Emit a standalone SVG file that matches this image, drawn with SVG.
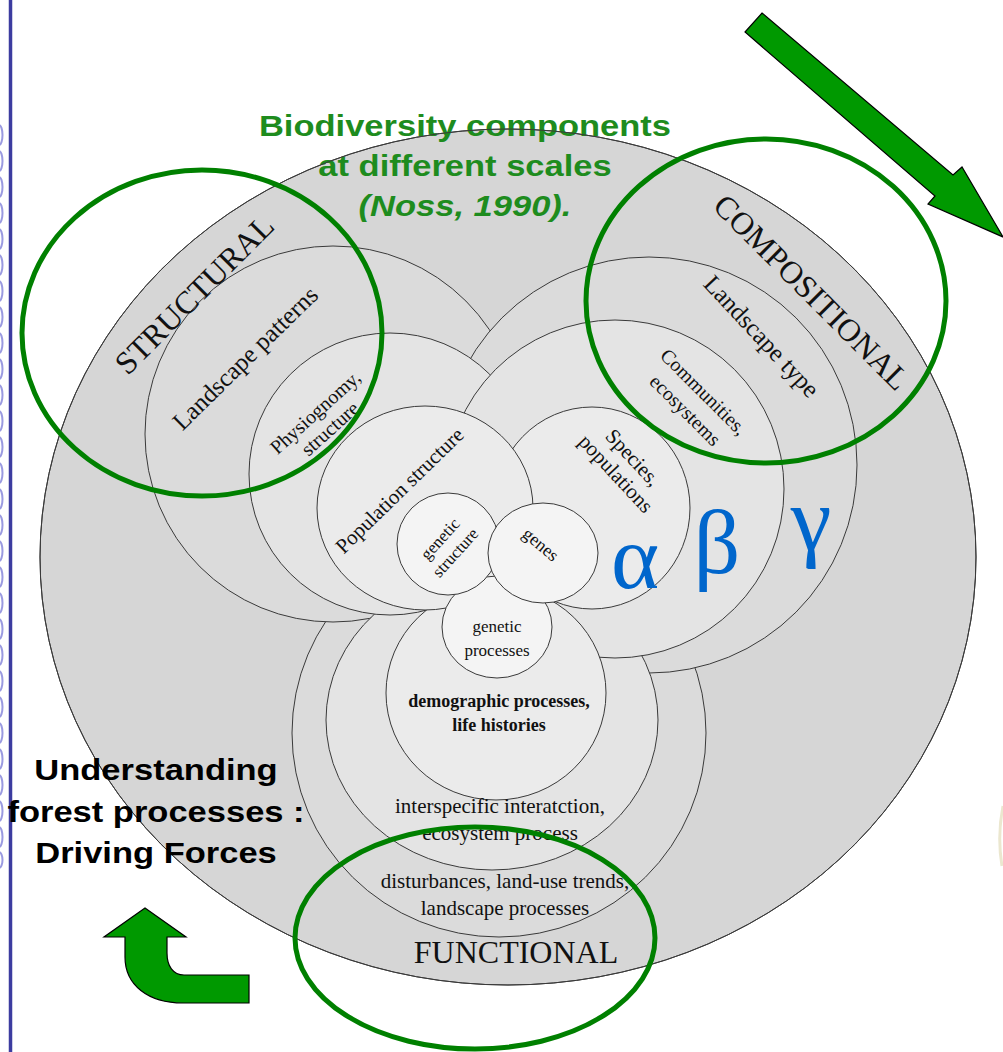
<svg xmlns="http://www.w3.org/2000/svg" width="1003" height="1052" viewBox="0 0 1003 1052">
<style>
.ring{stroke:#3a3a3a;stroke-width:1}
.l0{fill:#d6d6d6}
.l1{fill:#dbdbdb}
.l2{fill:#e4e4e4}
.l3{fill:#ebebeb}
.l4{fill:#f4f4f4}
.lab{font-family:"Liberation Serif","Times New Roman",serif;fill:#111}
.hl{fill:none;stroke:#008000;stroke-width:5}
.slide{font-family:"Liberation Sans",Arial,sans-serif;font-weight:bold;font-size:34.5px;text-anchor:middle}
.greek{font-family:"Liberation Serif","Times New Roman",serif;fill:#0066cc;font-size:92px;text-anchor:middle}
.arrow{fill:#009900;stroke:#000;stroke-width:1.2;stroke-linejoin:miter}
.bind{fill:none;stroke:#9a9ae0;stroke-width:2}
</style>
<rect width="1003" height="1052" fill="#fff"/>
<g id="binding">
<g class="bind">
<ellipse cx="-1" cy="135" rx="3.5" ry="10"/><ellipse cx="-1" cy="161" rx="3.5" ry="10"/><ellipse cx="-1" cy="187" rx="3.5" ry="10"/><ellipse cx="-1" cy="213" rx="3.5" ry="10"/><ellipse cx="-1" cy="239" rx="3.5" ry="10"/><ellipse cx="-1" cy="265" rx="3.5" ry="10"/><ellipse cx="-1" cy="291" rx="3.5" ry="10"/><ellipse cx="-1" cy="317" rx="3.5" ry="10"/><ellipse cx="-1" cy="343" rx="3.5" ry="10"/><ellipse cx="-1" cy="369" rx="3.5" ry="10"/><ellipse cx="-1" cy="395" rx="3.5" ry="10"/><ellipse cx="-1" cy="421" rx="3.5" ry="10"/><ellipse cx="-1" cy="447" rx="3.5" ry="10"/><ellipse cx="-1" cy="473" rx="3.5" ry="10"/><ellipse cx="-1" cy="499" rx="3.5" ry="10"/><ellipse cx="-1" cy="525" rx="3.5" ry="10"/><ellipse cx="-1" cy="551" rx="3.5" ry="10"/><ellipse cx="-1" cy="577" rx="3.5" ry="10"/><ellipse cx="-1" cy="603" rx="3.5" ry="10"/><ellipse cx="-1" cy="629" rx="3.5" ry="10"/><ellipse cx="-1" cy="655" rx="3.5" ry="10"/><ellipse cx="-1" cy="681" rx="3.5" ry="10"/><ellipse cx="-1" cy="707" rx="3.5" ry="10"/><ellipse cx="-1" cy="733" rx="3.5" ry="10"/><ellipse cx="-1" cy="759" rx="3.5" ry="10"/><ellipse cx="-1" cy="785" rx="3.5" ry="10"/><ellipse cx="-1" cy="811" rx="3.5" ry="10"/><ellipse cx="-1" cy="837" rx="3.5" ry="10"/><ellipse cx="-1" cy="860" rx="3.5" ry="8"/>
</g>
<line x1="10.5" y1="0" x2="10.5" y2="1052" stroke="#3c3ca0" stroke-width="3.5"/>
<path d="M1003,806 Q997,836 1002,866" fill="none" stroke="#ebe7cf" stroke-width="3"/>
</g>
<g id="outer"><ellipse cx="508" cy="557" rx="468" ry="428" class="ring l0"/></g>
<g id="level1">
<ellipse id="F1" cx="499" cy="733" rx="207" ry="204" class="ring l1"/>
<circle id="S1" cx="333" cy="434" r="188" class="ring l1"/>
<circle id="C1" cx="649" cy="465" r="208" class="ring l1"/>
</g>
<g id="level2">
<ellipse id="F2" cx="492" cy="720" rx="166" ry="150" class="ring l2"/>
<circle id="S2" cx="390" cy="474" r="141" class="ring l2"/>
<circle id="C2" cx="615" cy="489" r="169" class="ring l2"/>
</g>
<g id="level3">
<ellipse id="F3" cx="496" cy="693" rx="110" ry="107" class="ring l3"/>
<ellipse id="C3" cx="592" cy="508" rx="98" ry="101" class="ring l3"/>
<ellipse id="S3" cx="425" cy="508" rx="108" ry="102" class="ring l3"/>
</g>
<g id="level4">
<ellipse id="F4" cx="497" cy="627" rx="55" ry="51" class="ring l4"/>
<circle id="S4" cx="448" cy="544" r="51" class="ring l4"/>
<ellipse id="C4" cx="543" cy="553" rx="55" ry="50" class="ring l4"/>
</g>
<g id="title" fill="#1e8c1e" class="slide">
<text transform="translate(465,136) scale(1,0.87)">Biodiversity components</text>
<text transform="translate(465,176) scale(1,0.87)">at different scales</text>
<text transform="translate(465,216) scale(1,0.87)" font-style="italic">(Noss, 1990).</text>
</g>
<ellipse cx="508" cy="557" rx="468" ry="428" class="ring" fill="none"/>
<g id="labels" class="lab" text-anchor="middle">
<text font-size="32" transform="translate(202,302) rotate(-45)">STRUCTURAL</text>
<text font-size="32" transform="translate(804,300) rotate(45)">COMPOSITIONAL</text>
<text font-size="32" x="516" y="963">FUNCTIONAL</text>
<text font-size="25" transform="translate(251,364) rotate(-44.5)">Landscape patterns</text>
<text font-size="25" transform="translate(755.5,342) rotate(47)">Landscape type</text>
<text font-size="20" transform="translate(694,401.5) rotate(45)"><tspan x="0" y="-7">Communities,</tspan><tspan x="0" y="19">ecosystems</tspan></text>
<text font-size="20" transform="translate(323,421) rotate(-42)"><tspan x="0" y="-5">Physiognomy,</tspan><tspan x="0" y="17">structure</tspan></text>
<text font-size="21" transform="translate(404.4,495.5) rotate(-44.3)">Population structure</text>
<text font-size="21" transform="translate(624,466) rotate(47)"><tspan x="0" y="-5.4">Species,</tspan><tspan x="0" y="18">populations</tspan></text>
<text font-size="17" transform="translate(448,546) rotate(-48)"><tspan x="0" y="-5">genetic</tspan><tspan x="0" y="15.5">structure</tspan></text>
<text font-size="18" transform="translate(537,549) rotate(40)">genes</text>
<text font-size="17" x="497" y="632">genetic</text>
<text font-size="17" x="497" y="656">processes</text>
<text font-size="18" font-weight="bold" x="499" y="707">demographic processes,</text>
<text font-size="18" font-weight="bold" x="499" y="731">life histories</text>
<text font-size="21" x="500" y="813">interspecific interatction,</text>
<text font-size="21" x="500" y="840">ecosystem process</text>
<text font-size="21" x="505" y="888">disturbances, land-use trends,</text>
<text font-size="21" x="505" y="915">landscape processes</text>
</g>
<g id="greek" class="greek">
<text x="635" y="588">α</text>
<text x="717" y="573">β</text>
<text x="811" y="550">γ</text>
</g>
<g id="highlights">
<ellipse cx="202" cy="333" rx="180" ry="163" class="hl"/>
<ellipse cx="766" cy="301" rx="180" ry="162" class="hl"/>
<ellipse cx="475" cy="938" rx="180" ry="111" class="hl"/>
</g>
<g id="driving" class="slide" fill="#000">
<text transform="translate(156,780) scale(1,0.87)">Understanding</text>
<text transform="translate(156,822) scale(1,0.87)">forest processes :</text>
<text transform="translate(156,863) scale(1,0.87)">Driving Forces</text>
</g>
<g id="connectors">
<polygon class="arrow" points="762,13 953,175 962,167 1003,237 928,204 935,196 745,32"/>
<path class="arrow" d="M125,937 L104,937 L145,908 L186,937 L167,937 L167,953 C167,966 173,975 184,975 L249,975 L249,1003 L183,1003 C148,1003 125,985 125,957 Z"/>
</g>
</svg>
